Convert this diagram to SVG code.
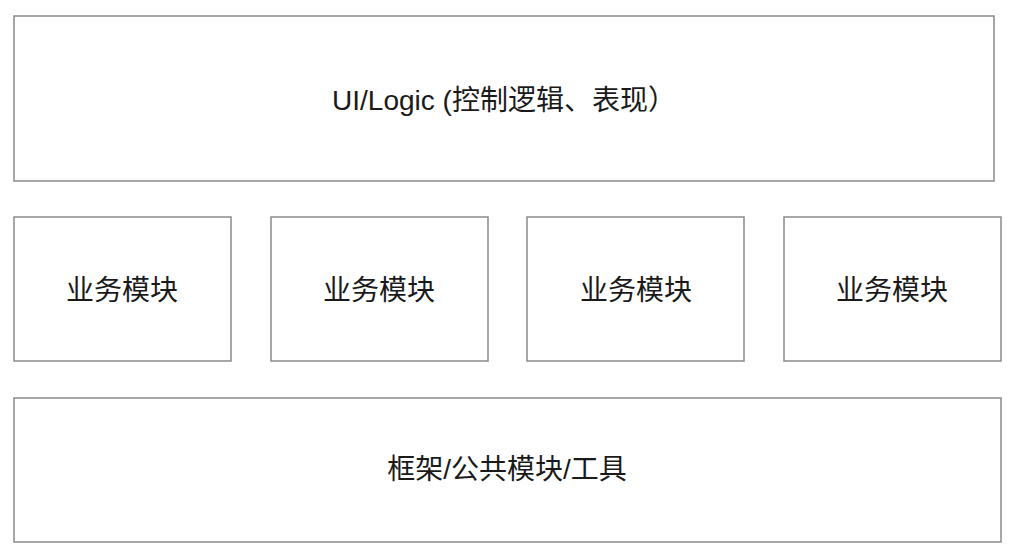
<svg xmlns="http://www.w3.org/2000/svg" width="1010" height="550" viewBox="0 0 1010 550">
<style>
rect{fill:#fff;stroke:#8a8a8a;stroke-width:1.5}
text{font-family:"Liberation Sans","Noto Sans CJK SC",sans-serif;font-size:28px;fill:#1a1a1a;text-anchor:middle;dominant-baseline:central}
</style>
<rect x="0" y="0" width="1010" height="550" style="stroke:none"/>
<g id="ui"><rect x="14" y="16" width="980" height="165"/><text x="504" y="100">UI/Logic (控制逻辑、表现）</text></g>
<g id="m1"><rect x="14" y="217" width="217" height="144"/><text x="122" y="290">业务模块</text></g>
<g id="m2"><rect x="271" y="217" width="217" height="144"/><text x="379" y="290">业务模块</text></g>
<g id="m3"><rect x="527" y="217" width="217" height="144"/><text x="636" y="290">业务模块</text></g>
<g id="m4"><rect x="784" y="217" width="217" height="144"/><text x="892" y="290">业务模块</text></g>
<g id="base"><rect x="14" y="398" width="987" height="144"/><text x="507" y="469">框架/公共模块/工具</text></g>
<g id="connectors"/>
</svg>
